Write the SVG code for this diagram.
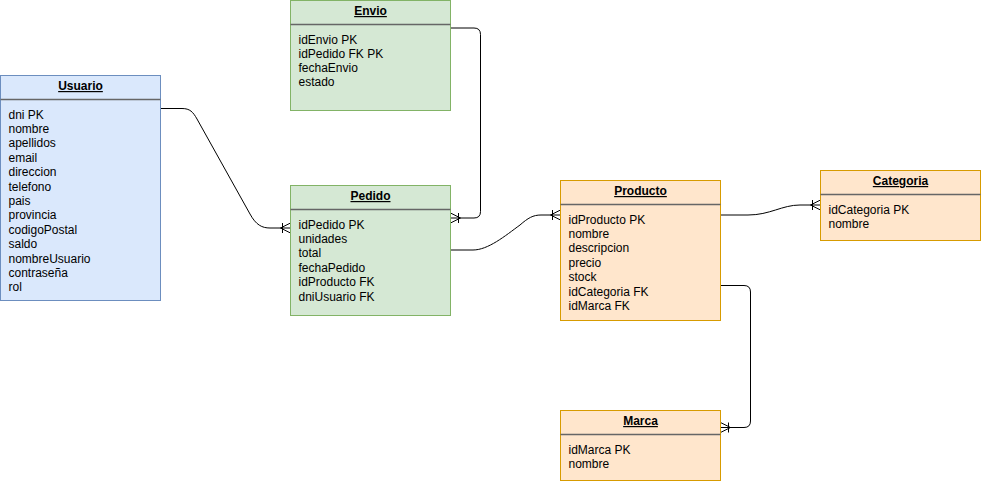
<svg xmlns="http://www.w3.org/2000/svg" width="981" height="481" viewBox="0 0 981 481">
  <style>
    text { font-family: "Liberation Sans", Arial, Helvetica, sans-serif; font-size: 12px; fill: #000; }
    .title { font-weight: bold; text-decoration: underline; text-anchor: middle; }
    .blue { fill: #dae8fc; stroke: #6c8ebf; stroke-width: 1; }
    .green { fill: #d5e8d4; stroke: #82b366; stroke-width: 1; }
    .orange { fill: #ffe6cc; stroke: #d79b00; stroke-width: 1; }
    .divider { stroke: #666; stroke-width: 1.5; }
    .edge { fill: none; stroke: #000; stroke-width: 1; marker-end: url(#many); }
  </style>
  <defs>
    <!-- crow's foot with bar: one-or-many -->
    <marker id="many" viewBox="-12 -7 14 14" refX="0" refY="0" markerWidth="14" markerHeight="14" markerUnits="userSpaceOnUse" orient="auto">
      <path d="M-10,0 L0,-5 M-10,0 L0,5 M-8,-5 L-8,5" fill="none" stroke="#000" stroke-width="1"/>
    </marker>
  </defs>

  <rect width="981" height="481" fill="#fff"/>

  <!-- relationships -->
  <g id="connectors">
    <path class="edge" d="M160.5,108.5 L182,108.5 C190,108.5 193,112 197,119 L250,214 C256,225 262,228 270,228 L290.5,228"/>
    <path class="edge" d="M450.5,28 L474,28 Q480.5,28 480.5,34.5 L480.5,211.5 Q480.5,218 474,218 L450.5,218"/>
    <path class="edge" d="M450.5,250 L473,250 C488,250 505,236 520,225 C528,218 533,215 541,215 L560.5,215"/>
    <path class="edge" d="M720.5,215 L748,215 C770,215 782,205 800,205 L820.5,205"/>
    <path class="edge" d="M720.5,285.5 L744,285.5 Q750.5,285.5 750.5,292 L750.5,421 Q750.5,427.5 744,427.5 L720.5,427.5"/>
  </g>

  <!-- entities -->
  <g id="usuario" transform="translate(0.5,75.5)">
    <rect class="blue" width="160" height="225"/>
    <line class="divider" x1="0" y1="24" x2="160" y2="24"/>
    <text class="title" x="80" y="14.5">Usuario</text>
    <text x="8" y="43">dni PK</text>
    <text x="8" y="57.4">nombre</text>
    <text x="8" y="71.8">apellidos</text>
    <text x="8" y="86.2">email</text>
    <text x="8" y="100.6">direccion</text>
    <text x="8" y="115">telefono</text>
    <text x="8" y="129.4">pais</text>
    <text x="8" y="143.8">provincia</text>
    <text x="8" y="158.2">codigoPostal</text>
    <text x="8" y="172.6">saldo</text>
    <text x="8" y="187">nombreUsuario</text>
    <text x="8" y="201.4">contraseña</text>
    <text x="8" y="215.8">rol</text>
  </g>

  <g id="envio" transform="translate(290.5,0.5)">
    <rect class="green" width="160" height="110"/>
    <line class="divider" x1="0" y1="24" x2="160" y2="24"/>
    <text class="title" x="80" y="14.5">Envio</text>
    <text x="8" y="43">idEnvio PK</text>
    <text x="8" y="57.3">idPedido FK PK</text>
    <text x="8" y="71.6">fechaEnvio</text>
    <text x="8" y="85.9">estado</text>
  </g>

  <g id="pedido" transform="translate(290.5,185.5)">
    <rect class="green" width="160" height="130"/>
    <line class="divider" x1="0" y1="24" x2="160" y2="24"/>
    <text class="title" x="80" y="14.5">Pedido</text>
    <text x="8" y="43">idPedido PK</text>
    <text x="8" y="57.4">unidades</text>
    <text x="8" y="71.8">total</text>
    <text x="8" y="86.2">fechaPedido</text>
    <text x="8" y="100.6">idProducto FK</text>
    <text x="8" y="115">dniUsuario FK</text>
  </g>

  <g id="producto" transform="translate(560.5,180.5)">
    <rect class="orange" width="160" height="140"/>
    <line class="divider" x1="0" y1="24" x2="160" y2="24"/>
    <text class="title" x="80" y="14.5">Producto</text>
    <text x="8" y="43">idProducto PK</text>
    <text x="8" y="57.4">nombre</text>
    <text x="8" y="71.8">descripcion</text>
    <text x="8" y="86.2">precio</text>
    <text x="8" y="100.6">stock</text>
    <text x="8" y="115">idCategoria FK</text>
    <text x="8" y="129.4">idMarca FK</text>
  </g>

  <g id="categoria" transform="translate(820.5,170.5)">
    <rect class="orange" width="160" height="70"/>
    <line class="divider" x1="0" y1="24" x2="160" y2="24"/>
    <text class="title" x="80" y="14.5">Categoria</text>
    <text x="8" y="43.5">idCategoria PK</text>
    <text x="8" y="57.9">nombre</text>
  </g>

  <g id="marca" transform="translate(560.5,410.5)">
    <rect class="orange" width="160" height="70"/>
    <line class="divider" x1="0" y1="24" x2="160" y2="24"/>
    <text class="title" x="80" y="14.5">Marca</text>
    <text x="8" y="43.5">idMarca PK</text>
    <text x="8" y="57.9">nombre</text>
  </g>
</svg>
